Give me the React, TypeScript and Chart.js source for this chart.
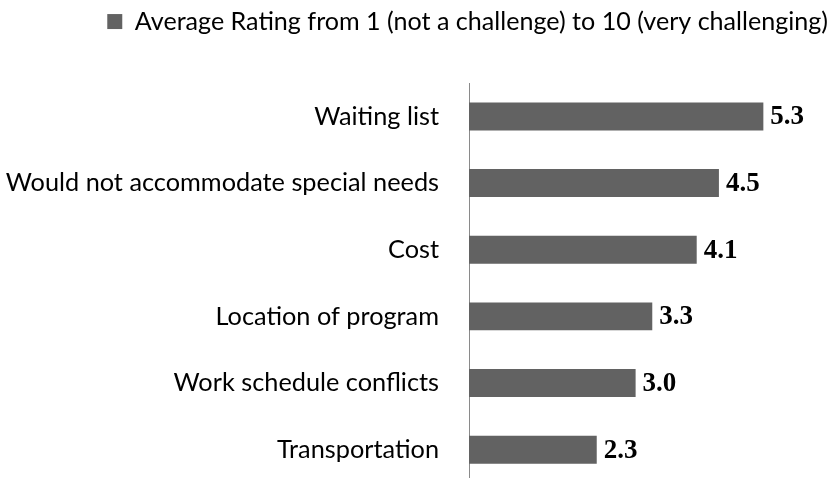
import React, { useEffect, useRef } from "react";
import { Chart, registerables } from "chart.js";

Chart.register(...registerables);

const categories = [
  "Waiting list",
  "Would not accommodate special needs",
  "Cost",
  "Location of program",
  "Work schedule conflicts",
  "Transportation",
];
const ratings = [5.3, 4.5, 4.1, 3.3, 3.0, 2.3];
const seriesLabel = "Average Rating from 1 (not a challenge) to 10 (very challenging)";

const BAR_COLOR = "#626262";
const SANS = "Lato, 'Open Sans', sans-serif";

function fitSize(text: string, target: number, weight = "normal"): number {
  const c = document.createElement("canvas").getContext("2d")!;
  c.font = `${weight} 100px ${SANS}`;
  const w = c.measureText(text).width;
  return Math.round(((100 * target) / w) * 10) / 10;
}

export default function App() {
  const ref = useRef<HTMLCanvasElement | null>(null);

  useEffect(() => {
    if (!ref.current) return;
    const labelSize = fitSize("Would not accommodate special needs", 434);
    const legendSize = fitSize(seriesLabel, 694);

    const valueLabels = {
      id: "valueLabels",
      afterDatasetsDraw(chart: any) {
        const ctx = chart.ctx;
        const meta = chart.getDatasetMeta(0);
        ctx.save();
        ctx.font = "bold 27px 'Liberation Serif', 'Times New Roman', serif";
        ctx.fillStyle = "#000";
        ctx.textAlign = "left";
        ctx.textBaseline = "middle";
        meta.data.forEach((bar: any, i: number) => {
          ctx.fillText(ratings[i].toFixed(1), bar.x + 7, bar.y + 1);
        });
        ctx.restore();
      },
    };

    const chart = new Chart(ref.current, {
      type: "bar",
      data: {
        labels: categories,
        datasets: [
          {
            label: seriesLabel,
            data: ratings,
            backgroundColor: BAR_COLOR,
            borderWidth: 0,
            barPercentage: 0.42,
            categoryPercentage: 1,
          },
        ],
      },
      options: {
        indexAxis: "y",
        responsive: false,
        animation: false,
        layout: { padding: { top: 7, right: 7, bottom: 1, left: 0 } },
        scales: {
          x: { display: false, min: 0, max: 6.5 },
          spacer: {
            type: "linear",
            axis: "x",
            position: "top",
            display: true,
            ticks: { display: false },
            grid: { display: false },
            border: { display: false },
            afterFit(scale: any) {
              scale.height = 39;
            },
          },
          y: {
            grid: { display: false },
            border: { display: true, color: "#8a8a8a", width: 1 },
            ticks: {
              padding: 22,
              color: "#000",
              font: { family: SANS, size: labelSize },
            },
            afterFit(scale: any) {
              scale.width = 469;
              scale.paddingTop = 0;
              scale.paddingBottom = 0;
            },
          },
        },
        plugins: {
          legend: {
            display: true,
            position: "top",
            align: "end",
            labels: {
              boxWidth: 15,
              boxHeight: 15,
              padding: 2,
              color: "#000",
              font: { family: SANS, size: legendSize },
            },
          },
          tooltip: { enabled: false },
        },
      },
      plugins: [valueLabels],
    });
    return () => chart.destroy();
  }, []);

  return (
    <div
      style={{
        position: "absolute",
        left: 0,
        top: 0,
        width: 837,
        height: 478,
        overflow: "hidden",
        background: "#fff",
      }}
    >
      <canvas ref={ref} width={837} height={484} style={{ display: "block" }} />
    </div>
  );
}
